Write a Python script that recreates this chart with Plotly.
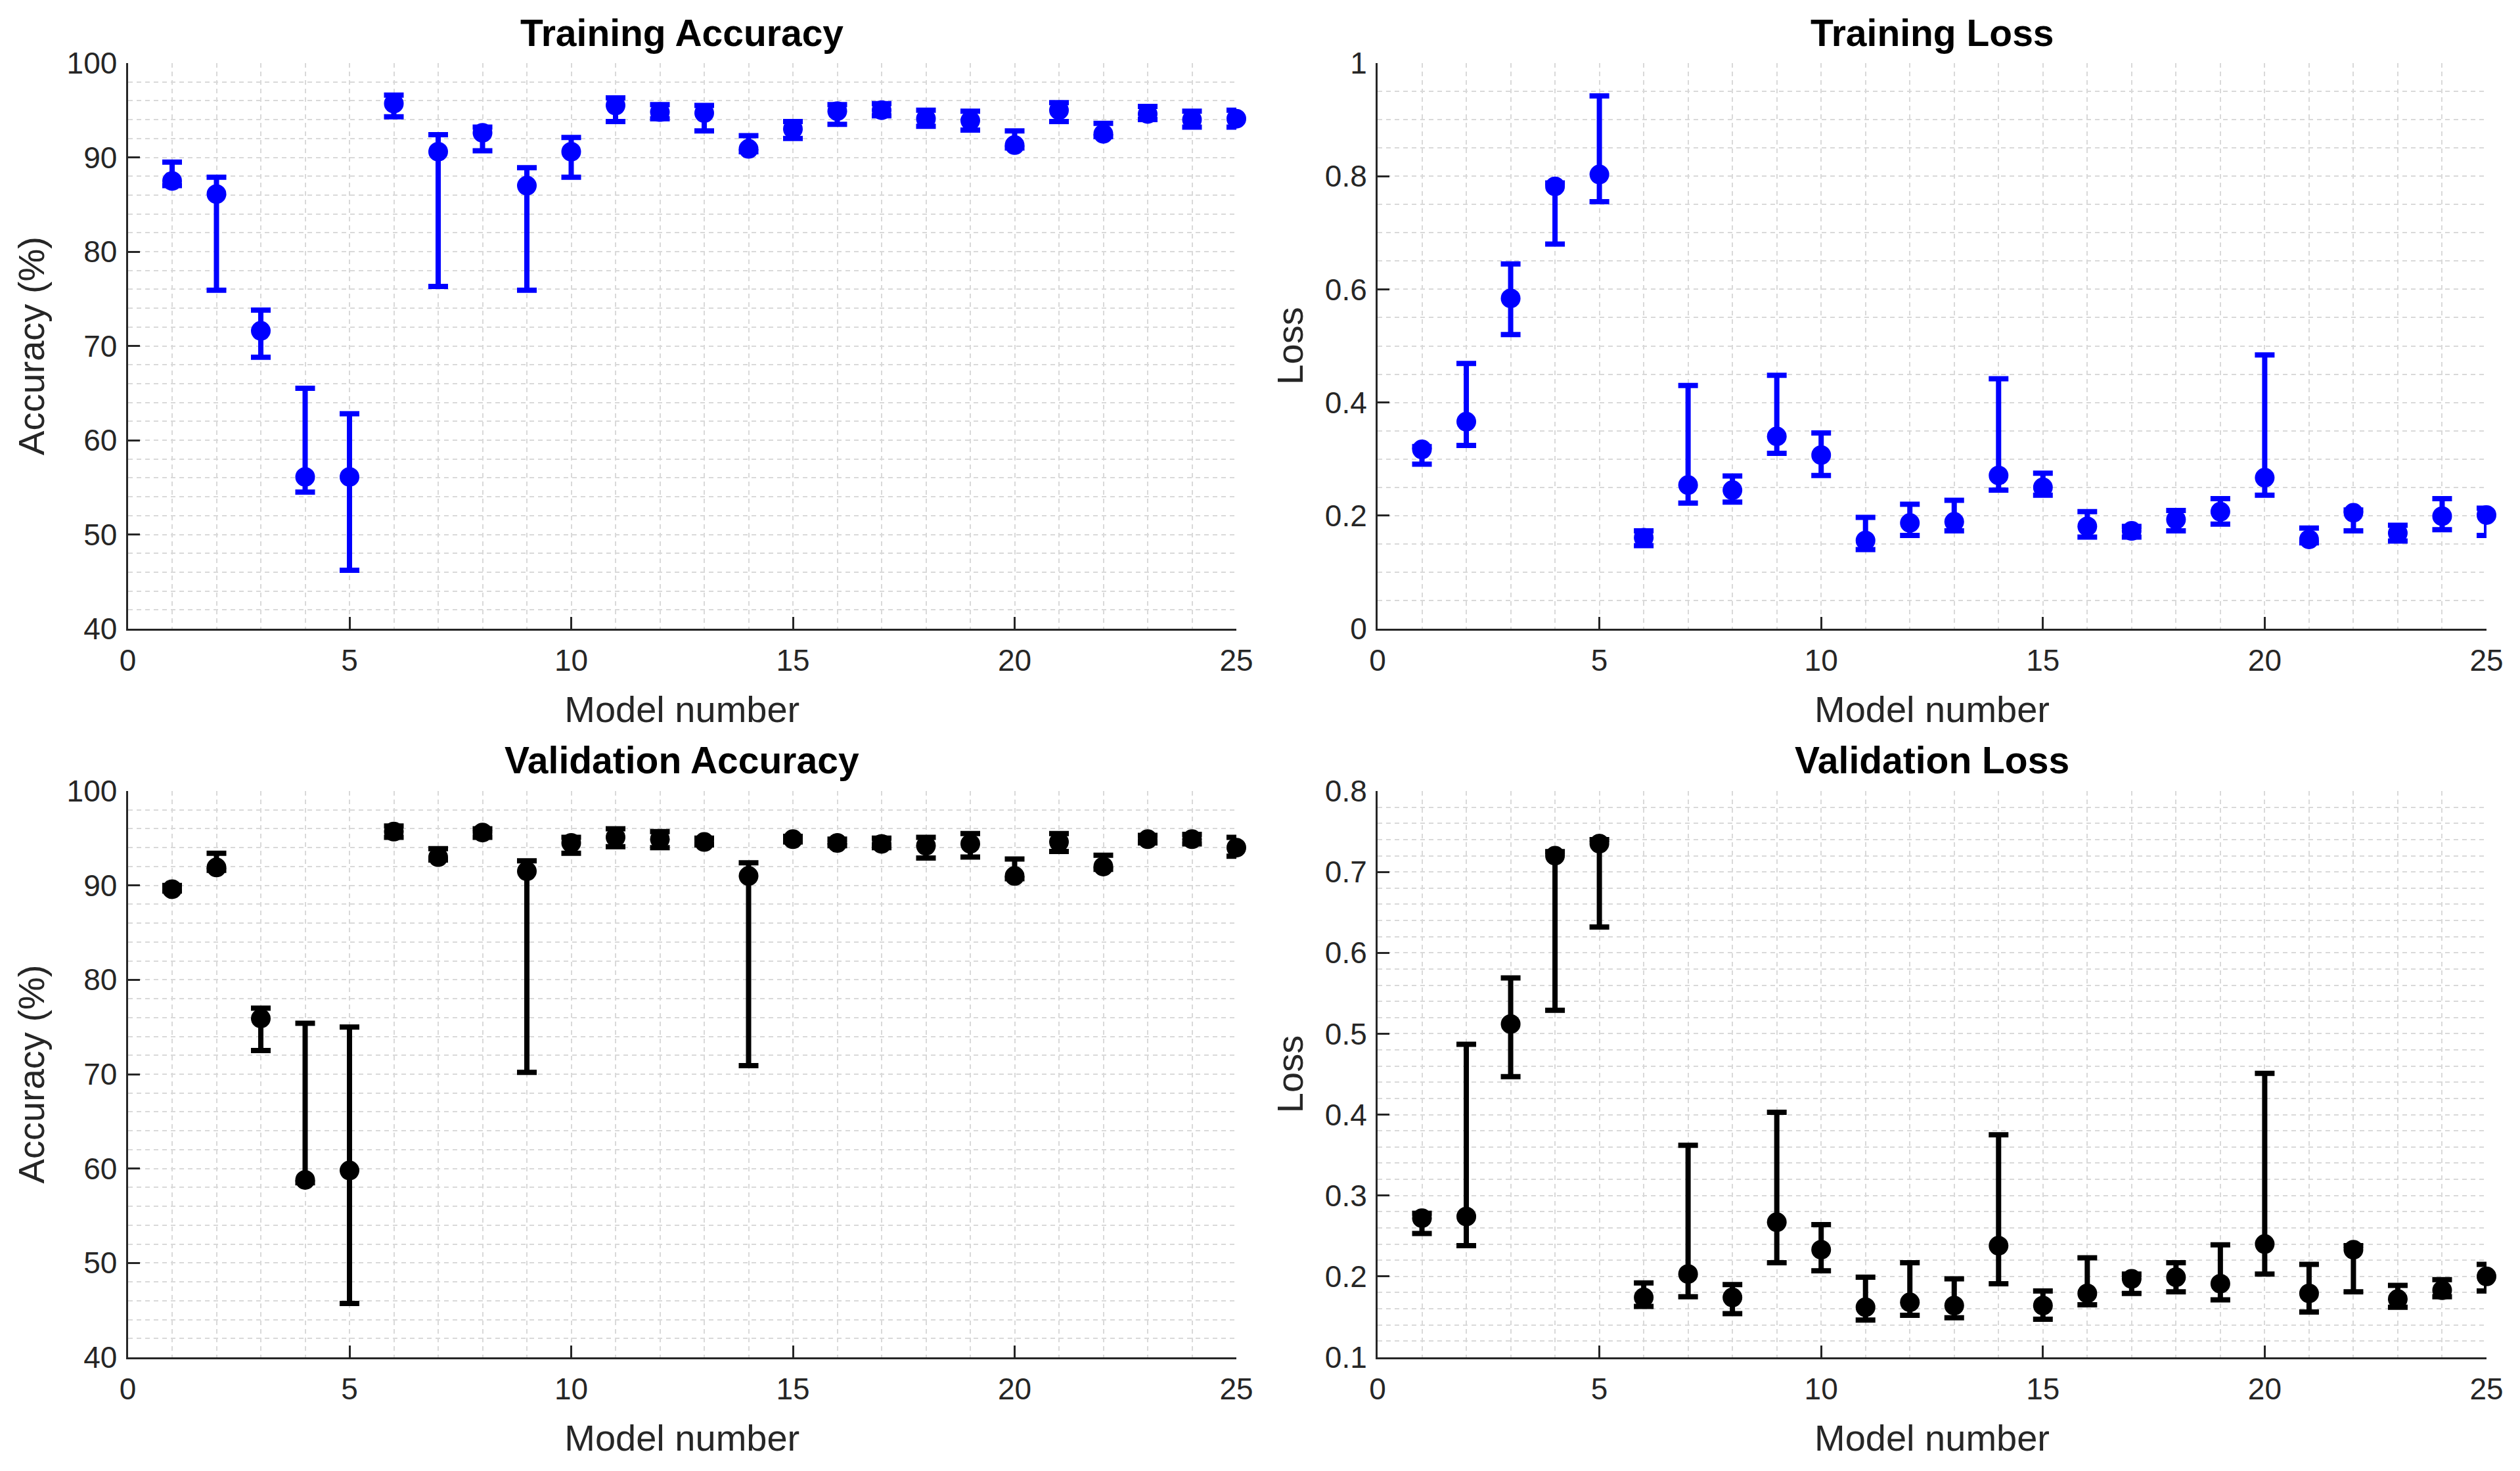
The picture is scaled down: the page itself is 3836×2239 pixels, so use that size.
import plotly.graph_objects as go

models = list(range(1, 26))

train_acc_mean = [87.5, 86.1, 71.6, 56.1, 56.1, 95.7, 90.6, 92.6, 87.0, 90.6,
                  95.5, 94.8, 94.7, 90.9, 93.0, 94.9, 95.0, 94.1, 93.9, 91.3,
                  95.0, 92.5, 94.6, 94.0, 94.1]
train_acc_low = [87.0, 75.9, 68.8, 54.5, 46.2, 94.3, 76.3, 90.7, 75.9, 87.9,
                 93.8, 94.1, 92.8, 90.6, 92.0, 93.5, 94.4, 93.3, 92.9, 91.0,
                 93.8, 92.2, 94.0, 93.2, 93.2]
train_acc_high = [89.5, 87.9, 73.8, 65.5, 62.8, 96.6, 92.4, 93.2, 88.9, 92.1,
                  96.3, 95.6, 95.5, 92.3, 93.8, 95.6, 95.7, 95.0, 94.9, 92.8,
                  95.8, 93.6, 95.4, 94.9, 95.0]

train_loss_mean = [0.317, 0.366, 0.584, 0.782, 0.803, 0.161, 0.254, 0.245, 0.340, 0.307,
                   0.156, 0.187, 0.189, 0.271, 0.250, 0.181, 0.173, 0.193, 0.207, 0.267,
                   0.158, 0.205, 0.169, 0.199, 0.201]
train_loss_low = [0.291, 0.324, 0.520, 0.680, 0.755, 0.147, 0.222, 0.224, 0.310, 0.271,
                  0.140, 0.165, 0.173, 0.245, 0.236, 0.162, 0.162, 0.173, 0.185, 0.236,
                  0.152, 0.173, 0.155, 0.175, 0.165]
train_loss_high = [0.322, 0.469, 0.645, 0.788, 0.942, 0.173, 0.430, 0.270, 0.448, 0.346,
                   0.197, 0.220, 0.227, 0.442, 0.275, 0.207, 0.181, 0.209, 0.230, 0.484,
                   0.178, 0.210, 0.183, 0.230, 0.213]

val_acc_mean = [89.6, 91.9, 75.9, 58.8, 59.8, 95.7, 93.0, 95.6, 91.5, 94.5,
                95.1, 94.9, 94.6, 91.0, 94.9, 94.5, 94.4, 94.2, 94.4, 91.0,
                94.6, 92.0, 94.9, 94.9, 94.0]
val_acc_low = [89.4, 91.6, 72.5, 58.5, 45.7, 95.1, 92.7, 95.1, 70.2, 93.4,
               94.1, 94.0, 94.3, 70.9, 94.6, 94.2, 94.0, 92.9, 93.0, 90.7,
               93.6, 91.7, 94.5, 94.4, 93.1]
val_acc_high = [90.0, 93.4, 77.0, 75.4, 75.0, 96.3, 93.9, 96.0, 92.6, 95.1,
                96.0, 95.7, 95.0, 92.4, 95.2, 94.9, 95.0, 95.1, 95.5, 92.8,
                95.5, 93.2, 95.3, 95.4, 95.1]

val_loss_mean = [0.272, 0.274, 0.512, 0.720, 0.735, 0.174, 0.203, 0.174, 0.267, 0.233,
                 0.162, 0.168, 0.164, 0.238, 0.164, 0.179, 0.197, 0.199, 0.191, 0.240,
                 0.179, 0.233, 0.172, 0.183, 0.200]
val_loss_low = [0.253, 0.238, 0.447, 0.529, 0.632, 0.163, 0.175, 0.154, 0.217, 0.207,
                0.146, 0.152, 0.149, 0.191, 0.147, 0.165, 0.179, 0.181, 0.171, 0.203,
                0.156, 0.181, 0.162, 0.175, 0.182]
val_loss_high = [0.278, 0.487, 0.569, 0.725, 0.740, 0.192, 0.362, 0.190, 0.403, 0.264,
                 0.199, 0.217, 0.197, 0.375, 0.182, 0.223, 0.203, 0.217, 0.239, 0.451,
                 0.215, 0.238, 0.189, 0.196, 0.215]

panels = [
    ("Training Accuracy", "Accuracy (%)", train_acc_mean, train_acc_low, train_acc_high,
     "#0000FF", [40, 100], 10, 2, None),
    ("Training Loss", "Loss", train_loss_mean, train_loss_low, train_loss_high,
     "#0000FF", [0, 1], 0.2, 0.05, ["0", "0.2", "0.4", "0.6", "0.8", "1"]),
    ("Validation Accuracy", "Accuracy (%)", val_acc_mean, val_acc_low, val_acc_high,
     "#000000", [40, 100], 10, 2, None),
    ("Validation Loss", "Loss", val_loss_mean, val_loss_low, val_loss_high,
     "#000000", [0.1, 0.8], 0.1, 0.02, None),
]

W, H = 3836, 2239
OFF = 8  # compensate for page body margin
xdoms = [[(194.5 - OFF) / W, (1882 - OFF) / W], [(2097 - OFF) / W, (3785 - OFF) / W]]
ydoms = [[1 - (957 - OFF) / H, 1 - (96 - OFF) / H],
         [1 - (2066 - OFF) / H, 1 - (1204 - OFF) / H]]
title_y = [50.5 - OFF, 1157 - OFF]

FONT = "Liberation Sans"
TXT = "#262626"
GRID = "#d9d9d9"

fig = go.Figure()
annotations = []
for i, (title, ytitle, mean, low, high, color, yr, ydt, ymin, ytxt) in enumerate(panels):
    r, c = divmod(i, 2)
    n = i + 1
    xa = "x" if n == 1 else f"x{n}"
    ya = "y" if n == 1 else f"y{n}"
    fig.add_trace(go.Scatter(
        x=models, y=mean, mode="markers", xaxis=xa, yaxis=ya,
        marker=dict(symbol="circle", size=30, color=color),
        error_y=dict(type="data", symmetric=False,
                     array=[h - m for h, m in zip(high, mean)],
                     arrayminus=[m - l for m, l in zip(mean, low)],
                     color=color, thickness=8, width=15),
        cliponaxis=False, showlegend=False,
    ))
    common = dict(showline=True, linecolor=TXT, linewidth=3, ticks="inside",
                  ticklen=18, tickwidth=3, tickcolor=TXT, mirror=False,
                  showgrid=True, gridcolor=GRID, gridwidth=2, griddash="7px,6px",
                  zeroline=False, automargin=False,
                  tickfont=dict(family=FONT, size=46, color=TXT),
                  title_font=dict(family=FONT, size=56, color=TXT))
    xkey = "xaxis" if n == 1 else f"xaxis{n}"
    ykey = "yaxis" if n == 1 else f"yaxis{n}"
    if ytxt is not None:
        yextra = dict(tickmode="array",
                      tickvals=[yr[0] + k * ydt for k in range(len(ytxt))],
                      ticktext=ytxt)
    else:
        yextra = dict(tick0=yr[0], dtick=ydt)
    fig.update_layout({
        xkey: dict(domain=xdoms[c], range=[0, 25], anchor=ya, tick0=0, dtick=5,
                   title=dict(text="Model number", standoff=30),
                   ticklabelstandoff=6,
                   minor=dict(dtick=1, tick0=0, showgrid=True, gridcolor=GRID,
                              gridwidth=2, griddash="7px,6px", ticks=""),
                   **common),
        ykey: dict(domain=ydoms[r], range=yr, anchor=xa,
                   title=dict(text=ytitle, standoff=16),
                   ticklabelstandoff=4,
                   minor=dict(dtick=ymin, tick0=yr[0], showgrid=True, gridcolor=GRID,
                              gridwidth=2, griddash="7px,6px", ticks=""),
                   **yextra, **common),
    })
    annotations.append(dict(
        text=f"<b>{title}</b>", x=sum(xdoms[c]) / 2, xref="paper",
        y=1 - title_y[r] / H, yref="paper", xanchor="center",
        yanchor="middle", showarrow=False,
        font=dict(family=FONT, size=57, color="#000000")))

fig.update_layout(width=W, height=H, margin=dict(l=0, r=0, t=0, b=0, pad=0),
                  paper_bgcolor="white", plot_bgcolor="white",
                  annotations=annotations)
fig.write_html("out.html")
